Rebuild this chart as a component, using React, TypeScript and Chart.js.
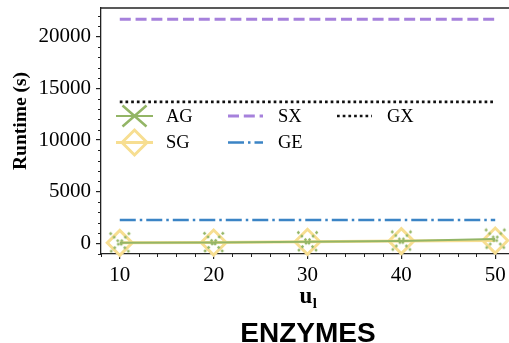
import React, { useEffect, useRef } from 'react';
import { Chart, registerables } from 'chart.js';

Chart.register(...registerables);

const xValues = [10, 20, 30, 40, 50];
const agValues = [60, 90, 160, 230, 420];
const sgValues = [50, 80, 150, 220, 270];
const sxValues = [21700, 21700, 21700, 21700, 21700];
const gxValues = [13700, 13700, 13700, 13700, 13700];
const geValues = [2250, 2250, 2250, 2250, 2250];

const xTicks = [10, 20, 30, 40, 50];
const yTicks = [0, 5000, 10000, 15000, 20000];

const seriesNames = ['AG', 'SG', 'SX', 'GE', 'GX'];
const yTitle = 'Runtime (s)';
const xTitleMain = 'u';
const xTitleSub = 'l';
const chartTitle = 'ENZYMES';

const COLORS = {
  AG: '#93b566',
  SG: '#f7de91',
  SX: '#a681dc',
  GE: '#3b84c5',
  GX: '#111111',
};
const DASH = {
  SX: [11, 4.8],
  GX: [2.7, 3],
  GE: [16, 4, 2.5, 4],
};
const WIDTH = { AG: 2, SG: 3, SX: 3, GE: 2.5, GX: 2.7 };
const SERIF = "'Liberation Serif', 'Times New Roman', serif";
const SANS = "'Liberation Sans', Arial, sans-serif";

function makeCrossImage(color: string, dashed: boolean, half: number, lw: number) {
  const c = document.createElement('canvas');
  const s = Math.ceil(half * 2 + lw * 2);
  c.width = s;
  c.height = s;
  const g = c.getContext('2d')!;
  g.strokeStyle = color;
  g.lineWidth = lw;
  if (dashed) g.setLineDash([2.5, 2.5]);
  const m = s / 2;
  g.beginPath();
  g.moveTo(m - half, m - half);
  g.lineTo(m + half, m + half);
  g.moveTo(m + half, m - half);
  g.lineTo(m - half, m + half);
  g.stroke();
  return c;
}

const decorPlugin = {
  id: 'decor',
  afterDraw(chart: any) {
    const { ctx, chartArea } = chart;
    const xs = chart.scales.x;
    const ys = chart.scales.y;
    const { left, right, top, bottom } = chartArea;
    ctx.save();
    // top spine
    ctx.strokeStyle = '#222';
    ctx.lineWidth = 1.3;
    ctx.beginPath();
    ctx.moveTo(left, top);
    ctx.lineTo(right, top);
    ctx.stroke();
    // minor ticks
    ctx.lineWidth = 1;
    ctx.strokeStyle = '#222';
    ctx.beginPath();
    for (let v = -1000; v <= 22000; v += 1000) {
      if (v % 5000 === 0) continue;
      const y = Math.round(ys.getPixelForValue(v)) + 0.5;
      ctx.moveTo(left - 3, y);
      ctx.lineTo(left, y);
    }
    for (let v = 8; v <= 52; v += 2) {
      if (v % 10 === 0) continue;
      const x = Math.round(xs.getPixelForValue(v)) + 0.5;
      ctx.moveTo(x, bottom);
      ctx.lineTo(x, bottom + 3);
    }
    ctx.stroke();

    // y title
    ctx.fillStyle = '#000';
    ctx.save();
    ctx.translate(21, 121);
    ctx.rotate(-Math.PI / 2);
    ctx.font = `bold 19.5px ${SERIF}`;
    ctx.textAlign = 'center';
    ctx.textBaseline = 'middle';
    ctx.fillText(yTitle, 0, 0);
    ctx.restore();

    // x title u_l
    const cx = xs.getPixelForValue(30) + 0.5;
    ctx.font = `bold 23px ${SERIF}`;
    const w1 = ctx.measureText(xTitleMain).width;
    ctx.font = `bold 15px ${SERIF}`;
    const w2 = ctx.measureText(xTitleSub).width;
    const sx = cx - (w1 + w2) / 2;
    ctx.textAlign = 'left';
    ctx.textBaseline = 'alphabetic';
    ctx.font = `bold 23px ${SERIF}`;
    ctx.fillText(xTitleMain, sx, 303);
    ctx.font = `bold 15px ${SERIF}`;
    ctx.fillText(xTitleSub, sx + w1 + 0.5, 308);

    // chart title
    ctx.font = `bold 28px ${SANS}`;
    ctx.textAlign = 'center';
    ctx.fillText(chartTitle, cx, 342);

    // legend
    const cols = [
      { x0: 116, x1: 153, tx: 166 },
      { x0: 228, x1: 263, tx: 278 },
      { x0: 337, x1: 372, tx: 387 },
    ];
    const rows = [
      { y: 116, ty: 122 },
      { y: 142.5, ty: 148 },
    ];
    const place = [
      [0, 0],
      [0, 1],
      [1, 0],
      [1, 1],
      [2, 0],
    ];
    seriesNames.forEach((name, i) => {
      const col = cols[place[i][0]];
      const row = rows[place[i][1]];
      const color = (COLORS as any)[name];
      ctx.save();
      ctx.strokeStyle = color;
      ctx.lineCap = 'butt';
      ctx.lineWidth = (WIDTH as any)[name];
      const dash = (DASH as any)[name];
      ctx.setLineDash(dash || []);
      ctx.beginPath();
      ctx.moveTo(col.x0, row.y);
      ctx.lineTo(col.x1, row.y);
      ctx.stroke();
      ctx.setLineDash([]);
      const mx = (col.x0 + col.x1) / 2;
      if (name === 'AG') {
        ctx.lineWidth = 2.5;
        ctx.beginPath();
        ctx.moveTo(mx - 12, row.y - 10.5);
        ctx.lineTo(mx + 12, row.y + 10.5);
        ctx.moveTo(mx + 12, row.y - 10.5);
        ctx.lineTo(mx - 12, row.y + 10.5);
        ctx.stroke();
      } else if (name === 'SG') {
        ctx.lineWidth = 3;
        const r = 12.5;
        ctx.beginPath();
        ctx.moveTo(mx - r, row.y);
        ctx.lineTo(mx, row.y - r);
        ctx.lineTo(mx + r, row.y);
        ctx.lineTo(mx, row.y + r);
        ctx.closePath();
        ctx.stroke();
      }
      ctx.restore();
      ctx.fillStyle = '#000';
      ctx.font = `18.5px ${SERIF}`;
      ctx.textAlign = 'left';
      ctx.textBaseline = 'alphabetic';
      ctx.fillText(name, col.tx, row.ty);
    });
    ctx.restore();
  },
};

export default function App() {
  const ref = useRef<HTMLCanvasElement | null>(null);
  useEffect(() => {
    document.body.style.margin = '0';
    document.documentElement.style.overflow = 'hidden';
    const canvas = ref.current!;
    const pts = (vals: number[]) => xValues.map((x, i) => ({ x, y: vals[i] }));
    const crossImg = makeCrossImage(COLORS.AG, true, 10, 2.5);
    const chart = new Chart(canvas, {
      type: 'line',
      data: {
        datasets: [
          {
            label: 'AG',
            data: pts(agValues),
            borderColor: COLORS.AG,
            borderWidth: WIDTH.AG,
            pointStyle: crossImg as any,
            pointRadius: 10,
            order: 0,
            clip: false as any,
          },
          {
            label: 'SG',
            data: pts(sgValues),
            borderColor: COLORS.SG,
            backgroundColor: 'rgba(0,0,0,0)',
            borderWidth: WIDTH.SG,
            pointStyle: 'rectRot',
            pointRadius: 12.5,
            pointBorderWidth: 3,
            pointBorderColor: COLORS.SG,
            pointBackgroundColor: 'rgba(0,0,0,0)',
            order: 1,
            clip: false as any,
          },
          {
            label: 'SX',
            data: pts(sxValues),
            borderColor: COLORS.SX,
            borderWidth: WIDTH.SX,
            borderDash: DASH.SX,
            pointRadius: 0,
            order: 2,
          },
          {
            label: 'GE',
            data: pts(geValues),
            borderColor: COLORS.GE,
            borderWidth: WIDTH.GE,
            borderDash: DASH.GE,
            pointRadius: 0,
            order: 3,
          },
          {
            label: 'GX',
            data: pts(gxValues),
            borderColor: COLORS.GX,
            borderWidth: WIDTH.GX,
            borderDash: DASH.GX,
            pointRadius: 0,
            order: 4,
          },
        ],
      },
      options: {
        animation: false,
        responsive: false,
        devicePixelRatio: 1,
        layout: { autoPadding: false, padding: { top: 8, left: 0, right: 0, bottom: 40 } },
        plugins: {
          legend: { display: false },
          tooltip: { enabled: false },
          title: { display: false },
        },
        scales: {
          x: {
            type: 'linear',
            min: 8,
            max: 51.47,
            afterBuildTicks: (axis: any) => {
              axis.ticks = xTicks.map((v) => ({ value: v }));
            },
            afterFit: (axis: any) => {
              axis.height = 49;
              axis.paddingLeft = 0;
              axis.paddingRight = 0;
            },
            grid: {
              drawOnChartArea: false,
              drawTicks: true,
              tickLength: 5,
              color: '#222',
              lineWidth: 1.2,
            },
            border: { display: true, color: '#222', width: 1.3 },
            ticks: {
              color: '#000',
              font: { family: SERIF, size: 21 },
              padding: 4,
              maxRotation: 0,
              autoSkip: false,
              callback: (v: any) => String(v),
            },
          },
          y: {
            type: 'linear',
            min: -1032,
            max: 22782,
            afterBuildTicks: (axis: any) => {
              axis.ticks = yTicks.map((v) => ({ value: v }));
            },
            afterFit: (axis: any) => {
              axis.width = 101;
              axis.paddingTop = 0;
              axis.paddingBottom = 0;
            },
            grid: {
              drawOnChartArea: false,
              drawTicks: true,
              tickLength: 5,
              color: '#222',
              lineWidth: 1.2,
            },
            border: { display: true, color: '#222', width: 1.3 },
            ticks: {
              color: '#000',
              font: { family: SERIF, size: 21 },
              padding: 5,
              autoSkip: false,
              callback: (v: any) => String(v),
            },
          },
        },
      },
      plugins: [decorPlugin],
    });
    return () => chart.destroy();
  }, []);
  return <canvas ref={ref} width={509} height={343} style={{ display: 'block' }} />;
}
